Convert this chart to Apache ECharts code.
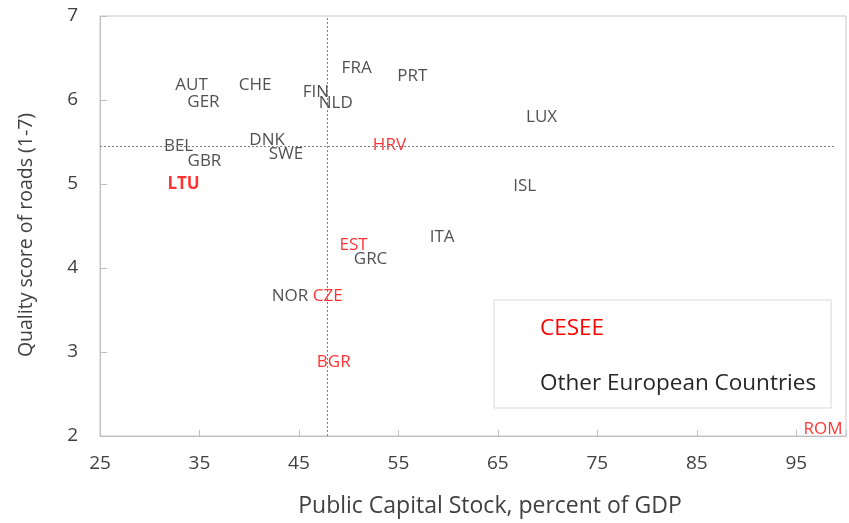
<!DOCTYPE html>
<html>
<head>
<meta charset="utf-8">
<script src="https://cdn.jsdelivr.net/npm/echarts@6/dist/echarts.min.js"></script>
<style>
  html, body { margin: 0; padding: 0; background: #fff; }
  #chart { width: 849px; height: 523px; }
</style>
</head>
<body>
<div id="chart"></div>
<script>
// country codes, public capital stock (% of GDP), road quality score (1-7)
var cesee = ['HRV', 'LTU', 'EST', 'CZE', 'BGR', 'ROM'];
var ceseeCapital = [54.1, 33.4, 50.5, 47.9, 48.5, 97.7];
var ceseeQuality = [5.46, 5.0, 4.27, 3.67, 2.88, 2.08];

var others = ['AUT', 'CHE', 'GER', 'FIN', 'NLD', 'FRA', 'PRT', 'LUX', 'BEL', 'DNK', 'SWE', 'GBR', 'ISL', 'ITA', 'GRC', 'NOR'];
var othersCapital = [34.2, 40.6, 35.4, 46.7, 48.7, 50.8, 56.4, 69.4, 32.9, 41.8, 43.7, 35.5, 67.7, 59.4, 52.2, 44.1];
var othersQuality = [6.18, 6.18, 5.98, 6.09, 5.96, 6.38, 6.28, 5.79, 5.45, 5.52, 5.35, 5.27, 4.97, 4.37, 4.11, 3.67];

var avgCapital = 47.8;
var avgQuality = 5.45;

var xTicks = [25, 35, 45, 55, 65, 75, 85, 95];

var font = '"Open Sans", "DejaVu Sans", sans-serif';

function toData(names, xs, ys) {
    var out = [];
    for (var i = 0; i < names.length; i++) {
        var item = { value: [xs[i], ys[i], names[i]] };
        if (names[i] === 'LTU') {
            item.label = { fontWeight: 'bold' };
        }
        out.push(item);
    }
    return out;
}

var chart = echarts.init(document.getElementById('chart'));

var option = {
    animation: false,
    textStyle: { fontFamily: font },
    grid: {
        left: 100, right: 1, top: 16, bottom: 85,
        show: true, borderColor: '#c8c8c8', borderWidth: 1
    },
    legend: {
        orient: 'vertical',
        left: 494, top: 300,
        padding: [17, 15, 13, 41],
        itemWidth: 0, itemHeight: 0,
        itemGap: 32,
        borderColor: '#d9d9d9', borderWidth: 1,
        textStyle: { fontSize: 22.5, fontFamily: font },
        data: [
            { name: 'CESEE', textStyle: { color: '#ff0000' } },
            { name: 'Other European Countries', textStyle: { color: '#262626' } }
        ],
        selectedMode: false
    },
    xAxis: {
        type: 'value',
        min: 25, max: 100, interval: 10,
        name: 'Public Capital Stock, percent of GDP',
        nameLocation: 'middle',
        nameGap: 59,
        nameTextStyle: { fontSize: 23, color: '#404040', padding: [0, 0, 0, 34] },
        axisLine: { show: true, lineStyle: { color: '#bfbfbf' } },
        axisTick: { show: true, inside: true, length: 6, lineStyle: { color: '#bfbfbf' } },
        axisLabel: {
            fontSize: 19, color: '#404040', margin: 18,
            formatter: function (v) { return xTicks.indexOf(v) >= 0 ? String(v) : ''; }
        },
        splitLine: { show: false }
    },
    yAxis: {
        type: 'value',
        min: 2, max: 7, interval: 1,
        name: 'Quality score of roads (1-7)',
        nameLocation: 'middle',
        nameGap: 64,
        nameTextStyle: { fontSize: 19.5, color: '#404040', padding: [0, 0, 0, -18] },
        axisLine: { show: true, lineStyle: { color: '#bfbfbf' } },
        axisTick: { show: true, inside: true, length: 7, lineStyle: { color: '#bfbfbf' } },
        axisLabel: { fontSize: 19, color: '#404040', margin: 22 },
        splitLine: { show: false }
    },
    series: [
        {
            name: 'CESEE',
            type: 'scatter',
            symbolSize: 0,
            itemStyle: { color: '#ff0000' },
            label: {
                show: true, position: 'inside',
                color: '#ff0000', fontSize: 17, fontFamily: font,
                formatter: function (p) { return p.value[2]; }
            },
            data: toData(cesee, ceseeCapital, ceseeQuality),
            markLine: {
                silent: true,
                symbol: 'none',
                label: { show: false },
                lineStyle: { color: '#7f7f7f', type: [2, 2], width: 1 },
                data: [
                    [{ coord: [avgCapital, 2] }, { coord: [avgCapital, 7] }],
                    [{ coord: [25, avgQuality] }, { coord: [98.8, avgQuality] }]
                ]
            }
        },
        {
            name: 'Other European Countries',
            type: 'scatter',
            symbolSize: 0,
            itemStyle: { color: '#262626' },
            label: {
                show: true, position: 'inside',
                color: '#262626', fontSize: 17, fontFamily: font,
                formatter: function (p) { return p.value[2]; }
            },
            data: toData(others, othersCapital, othersQuality)
        }
    ]
};

chart.setOption(option);
</script>
</body>
</html>
